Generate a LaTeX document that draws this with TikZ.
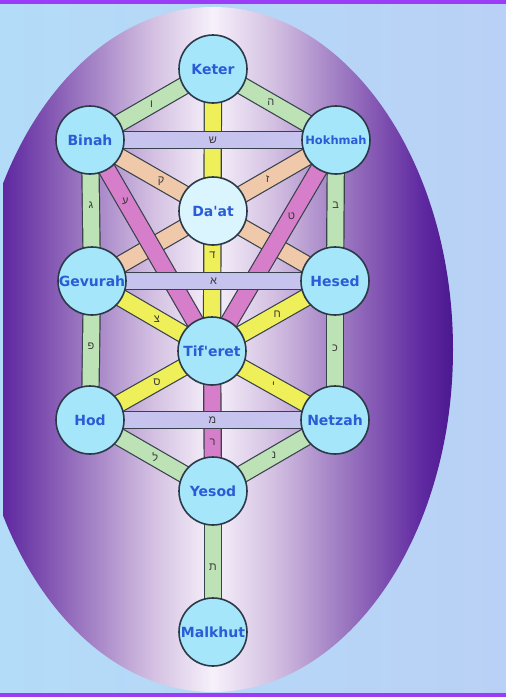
\documentclass[tikz,border=0pt]{standalone}
\usepackage{fontspec}
\newfontfamily\namefont{DejaVu Sans}
\newfontfamily\hebfont[Script=Hebrew]{Liberation Sans}
\TeXXeTstate=1
\newcommand\hb[1]{{\hebfont\beginR#1\endR}}
\definecolor{bgA}{HTML}{B3DCF8}
\definecolor{bgB}{HTML}{B9D1F6}
\definecolor{topbar}{HTML}{9B3DF6}
\definecolor{nodefill}{HTML}{A6E6FA}
\definecolor{daatfill}{HTML}{DAF5FD}
\definecolor{nodeline}{HTML}{2B3A48}
\definecolor{nametext}{HTML}{2A5CD6}
\definecolor{barline}{HTML}{38424C}
\definecolor{gcol}{HTML}{BCE2B6}
\definecolor{ycol}{HTML}{EFEF5A}
\definecolor{lcol}{HTML}{C6C4EE}
\definecolor{pcol}{HTML}{F0C9AA}
\definecolor{mcol}{HTML}{D77ECB}
\definecolor{letcol}{HTML}{3A3A3A}
\definecolor{eA}{HTML}{4C1890}
\definecolor{eB}{HTML}{5E28A0}
\definecolor{eC}{HTML}{7E50B0}
\definecolor{eD}{HTML}{A888C8}
\definecolor{eE}{HTML}{D4C0E2}
\definecolor{eF}{HTML}{F6F1FA}
\pgfdeclarehorizontalshading{ellshade}{100bp}{color(0bp)=(eA); color(25bp)=(eA); color(28.1bp)=(eB); color(32.3bp)=(eC); color(38bp)=(eD); color(43.75bp)=(eE); color(50bp)=(eF); color(56.25bp)=(eE); color(62bp)=(eD); color(67.7bp)=(eC); color(71.9bp)=(eB); color(75bp)=(eA); color(100bp)=(eA)}
\pgfdeclarelayer{bglayer}
\pgfdeclarelayer{barlayer}
\pgfsetlayers{bglayer,barlayer,main}
\begin{document}
\begin{tikzpicture}[x=1pt,y=-1pt,
  sef/.style={circle, draw=nodeline, line width=1.6pt, fill=nodefill, minimum size=68pt, inner sep=0pt, text=nametext, font=\namefont\bfseries\fontsize{14}{14}\selectfont},
  barbase/.style={draw=barline, line width=1.2pt, double distance=16pt},
  gbar/.style={barbase, double=gcol},
  ybar/.style={barbase, double=ycol},
  lbar/.style={barbase, double=lcol},
  pbar/.style={barbase, double=pcol},
  mbar/.style={barbase, double=mcol},
  lettr/.style={text=letcol, font=\fontsize{11}{11}\selectfont, inner sep=0pt}
]
\useasboundingbox (0,0) rectangle (506,697);
\begin{pgfonlayer}{bglayer}
  \shade[left color=bgA, right color=bgB] (0,0) rectangle (506,697);
  \begin{scope}
    \clip (3,0) rectangle (506,697);
    \path[shading=ellshade] (213,349.5) ellipse [x radius=240pt, y radius=342.5pt];
  \end{scope}
  \fill[topbar] (0,0) rectangle (506,4);
  \fill[topbar] (0,693) rectangle (506,697);
\end{pgfonlayer}

\node[sef] (keter) at (213,69) {Keter};
\node[sef] (binah) at (90,140) {Binah};
\node[sef, font=\namefont\bfseries\fontsize{11.5}{12}\selectfont] (hokhmah) at (336,140) {Hokhmah};
\node[sef, fill=daatfill] (daat) at (213,211) {Da'at};
\node[sef] (gevurah) at (92,281) {Gevurah};
\node[sef] (hesed) at (335,281) {Hesed};
\node[sef] (tiferet) at (212,351) {Tif'eret};
\node[sef] (hod) at (90,420) {Hod};
\node[sef] (netzah) at (335,420) {Netzah};
\node[sef] (yesod) at (213,491) {Yesod};
\node[sef] (malkhut) at (213,632) {Malkhut};

\begin{pgfonlayer}{barlayer}
  \draw[pbar] (binah.center) -- node[lettr,pos=.29]{\hb{ק}} (hesed.center);
  \draw[pbar] (hokhmah.center) -- node[lettr,pos=.28]{\hb{ז}} (gevurah.center);
  \draw[mbar] (binah.center) -- node[lettr,pos=.29]{\hb{ע}} (tiferet.center);
  \draw[mbar] (hokhmah.center) -- node[lettr,pos=.36]{\hb{ט}} (tiferet.center);
  \draw[mbar] (tiferet.center) -- node[lettr,pos=.65]{\hb{ר}} (yesod.center);
  \draw[ybar] (keter.center) -- node[lettr,pos=.66]{\hb{ד}} (tiferet.center);
  \draw[ybar] (gevurah.center) -- node[lettr,pos=.54]{\hb{צ}} (tiferet.center);
  \draw[ybar] (hesed.center) -- node[lettr,pos=.47]{\hb{ח}} (tiferet.center);
  \draw[ybar] (hod.center) -- node[lettr,pos=.55]{\hb{ס}} (tiferet.center);
  \draw[ybar] (netzah.center) -- node[lettr,pos=.5]{\hb{י}} (tiferet.center);
  \draw[gbar] (keter.center) -- node[lettr,pos=.5]{\hb{ו}} (binah.center);
  \draw[gbar] (keter.center) -- node[lettr,pos=.47]{\hb{ה}} (hokhmah.center);
  \draw[gbar] (binah.center) -- node[lettr,pos=.46]{\hb{ג}} (gevurah.center);
  \draw[gbar] (hokhmah.center) -- node[lettr,pos=.46]{\hb{ב}} (hesed.center);
  \draw[gbar] (gevurah.center) -- node[lettr,pos=.47]{\hb{פ}} (hod.center);
  \draw[gbar] (hesed.center) -- node[lettr,pos=.48]{\hb{כ}} (netzah.center);
  \draw[gbar] (hod.center) -- node[lettr,pos=.53]{\hb{ל}} (yesod.center);
  \draw[gbar] (netzah.center) -- node[lettr,pos=.5]{\hb{נ}} (yesod.center);
  \draw[gbar] (yesod.center) -- node[lettr,pos=.54]{\hb{ת}} (malkhut.center);
  \draw[lbar] (binah.center) -- node[lettr]{\hb{ש}} (hokhmah.center);
  \draw[lbar] (gevurah.center) -- node[lettr]{\hb{א}} (hesed.center);
  \draw[lbar] (hod.center) -- node[lettr]{\hb{מ}} (netzah.center);
\end{pgfonlayer}
\end{tikzpicture}
\end{document}
